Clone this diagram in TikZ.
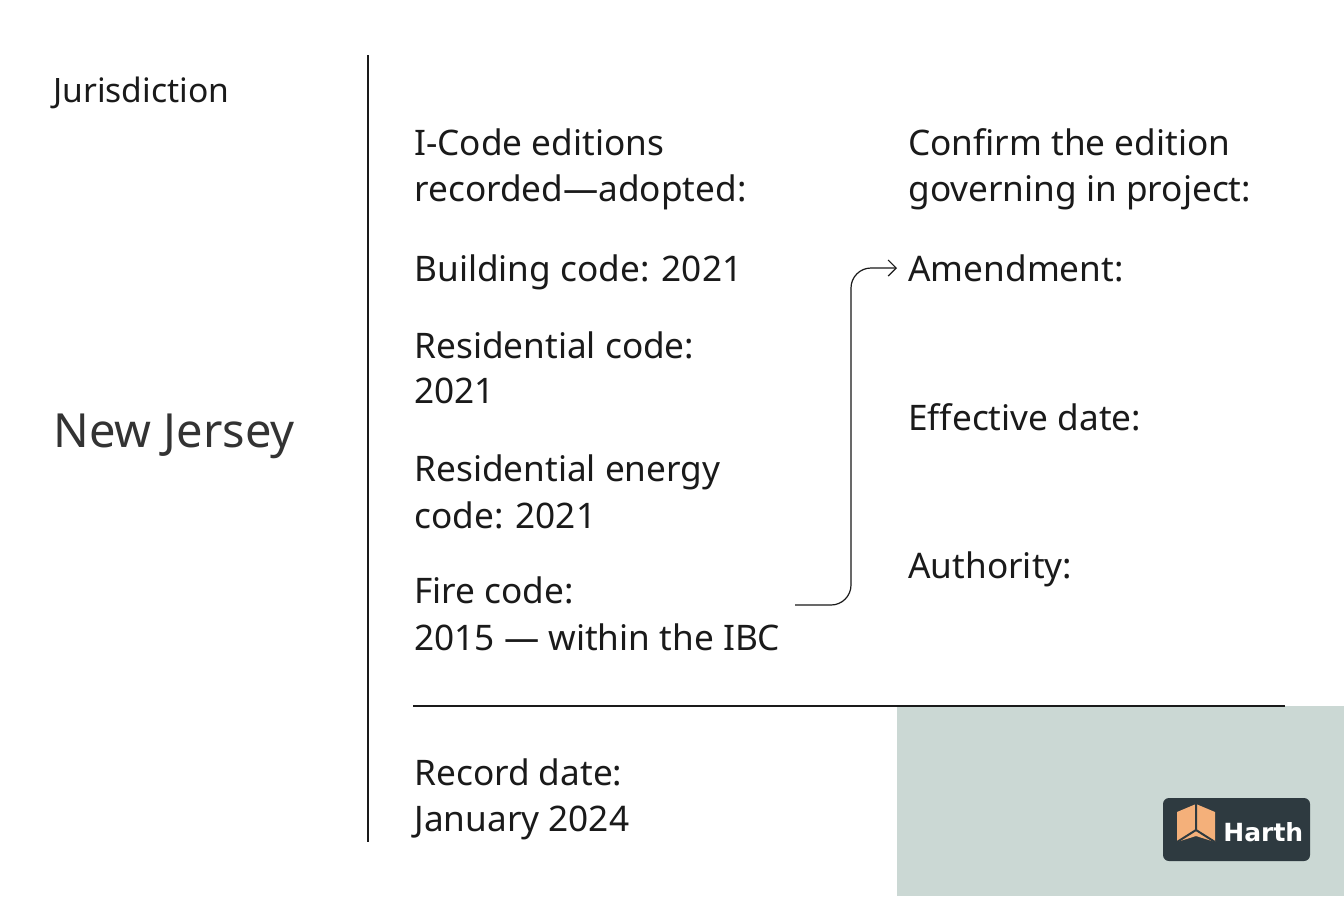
\documentclass[tikz,border=0pt]{standalone}
\usepackage{fontspec}
\setmainfont{Noto Sans}
\newfontfamily\logofont{DejaVu Sans}
\usetikzlibrary{arrows.meta}
\definecolor{ink}{HTML}{1A1A1A}
\definecolor{panel}{HTML}{CBD8D4}
\definecolor{logobg}{HTML}{2E3A40}
\definecolor{logoor}{HTML}{F4B07A}
\begin{document}
\begin{tikzpicture}[x=0.5pt,y=-0.5pt,
  txt/.style={anchor=base west,inner sep=0pt,text=ink,font=\fontsize{17.6}{19}\selectfont},
  rule/.style={draw=ink,line width=0.7pt}]
\useasboundingbox[fill=white] (0,0) rectangle (1344,896);
\fill[panel] (897,706) rectangle (1344,896);
\node[txt,font=\fontsize{16.8}{18}\selectfont] (jur) at (53,102) {Jurisdiction};
\node[txt,text={black!80},font=\fontsize{23.5}{26}\selectfont] (nj) at (53,447) {New Jersey};
\coordinate (vt) at (368,55); \coordinate (vb) at (368,842);
\draw[rule] (vt) -- (vb);
\node[txt] (h1) at (414,155) {I-Code editions};
\node[txt] (h2) at (414,201) {recorded—adopted:};
\node[txt] (b) at (414,281) {Building code: 2021};
\node[txt] (r1) at (414,358) {Residential code:};
\node[txt] (r2) at (414,403) {2021};
\node[txt] (e1) at (414,481) {Residential energy};
\node[txt] (e2) at (414,528) {code: 2021};
\node[txt] (f1) at (414,603) {Fire code:};
\node[txt] (f2) at (414,650) {2015 — within the IBC};
\node[txt] (c1) at (908,155) {Confirm the edition};
\node[txt] (c2) at (908,201) {governing in project:};
\node[txt] (am) at (908,281) {Amendment:};
\node[txt] (ef) at (908,430) {Effective date:};
\node[txt] (au) at (908,578) {Authority:};
\node[txt] (rd1) at (414,785) {Record date:};
\node[txt] (rd2) at (414,831) {January 2024};
\coordinate (hl) at (413,706); \coordinate (hr) at (1285,706);
\draw[rule] (hl) -- (hr);
\coordinate (as) at (795,605); \coordinate (ae) at (897,268);
\draw[rule,line width=0.6pt,-{Straight Barb[length=4pt,width=8pt]},rounded corners=10pt]
  (as) -- (851,605) -- (851,268) -- (ae);
% logo
\node[fill=logobg,rounded corners=3pt,minimum width=73.5pt,minimum height=31.5pt,inner sep=0pt] (logo) at (1236.5,829.5) {};
\fill[logoor] (1177,812) -- (1196,804) -- (1215,812) -- (1215,842) -- (1196,836) -- (1177,842) -- cycle;
\draw[logobg,line width=1pt] (1196,804) -- (1196,830) -- (1177,842) (1196,830) -- (1215,842);
\node[inner sep=0pt,text=white,font=\logofont\bfseries\fontsize{12.5}{14}\selectfont,anchor=base west] (hn) at (1223,841) {Harth};
\end{tikzpicture}
\end{document}
